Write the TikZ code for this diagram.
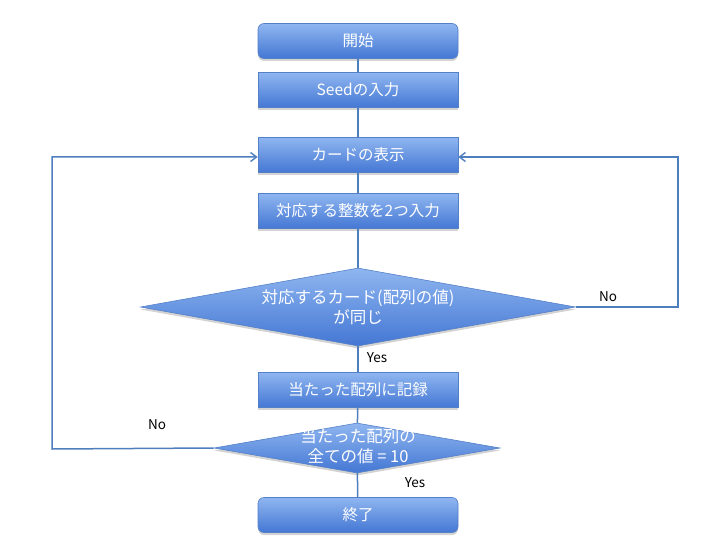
\documentclass[tikz,border=0pt]{standalone}
\usepackage{fontspec}
\setmainfont{Noto Sans CJK JP}
\usetikzlibrary{shapes.geometric,shadows,arrows.meta}
\definecolor{boxtop}{RGB}{143,182,240}
\definecolor{boxbot}{RGB}{68,119,212}
\definecolor{boxedge}{RGB}{84,128,200}
\definecolor{linecol}{RGB}{79,126,190}
\tikzset{
  boxbase/.style={draw=boxedge, line width=0.6pt, top color=boxtop, bottom color=boxbot,
    drop shadow={shadow xshift=0pt, shadow yshift=-2.5pt, opacity=0.35},
    minimum width=200pt, minimum height=35pt, inner sep=0pt,
    text=white, font=\fontsize{15.5}{18}\selectfont},
  termbox/.style={boxbase, rounded corners=6pt},
  procbox/.style={boxbase},
  decbox/.style={diamond, boxbase, inner sep=0pt},
  dectext/.style={text=white, align=center, font=\fontsize{16.5}{20}\selectfont, inner sep=0pt},
  conn/.style={draw=linecol, line width=1.5pt},
  arr/.style={conn, -{Straight Barb[length=6pt,width=9pt,line width=1.4pt]}},
  lbl/.style={font=\fontsize{13.5}{15}\selectfont, text=black, inner sep=0pt},
}
\begin{document}
\begin{tikzpicture}[x=1pt,y=-1pt]
\useasboundingbox (0,0) rectangle (720,540);
\node[termbox] (start) at (358,41) {開始};
\node[procbox] (seed) at (358,90) {Seedの入力};
\node[procbox] (card) at (358,155) {カードの表示};
\node[procbox] (input) at (358,211) {対応する整数を2つ入力};
\node[decbox, minimum width=435pt, minimum height=78pt] (d1) at (358,307) {};
\node[dectext] (d1t) at (358,307) {対応するカード(配列の値)\\が同じ};
\node[procbox] (rec) at (358,390) {当たった配列に記録};
\node[decbox, minimum width=286pt, minimum height=50pt] (d2) at (357,448) {};
\node[dectext] (d2t) at (358,446) {当たった配列の\\全ての値 = 10};
\node[termbox] (end) at (358,515) {終了};

\draw[conn] (start) -- (seed);
\draw[conn] (seed) -- (card);
\draw[conn] (card) -- (input);
\draw[conn] (input) -- (d1);
\draw[conn] (d1) -- (rec);
\draw[conn] (rec) -- (d2);
\draw[conn] (d2) -- (end);

\coordinate (rc1) at (678,307);
\coordinate (rc2) at (678,157);
\draw[arr] (d1.east) -- (rc1) -- (rc2) -- ([yshift=-2pt]card.east);
\coordinate (lc1) at (52,449);
\coordinate (lc2) at (52,157);
\draw[arr] (d2.west) -- (lc1) -- (lc2) -- ([yshift=-2pt]card.west);

\node[lbl] (no1) at (608,297) {No};
\node[lbl] (yes1) at (377,358) {Yes};
\node[lbl] (no2) at (157,425) {No};
\node[lbl] (yes2) at (415,483) {Yes};
\end{tikzpicture}
\end{document}
